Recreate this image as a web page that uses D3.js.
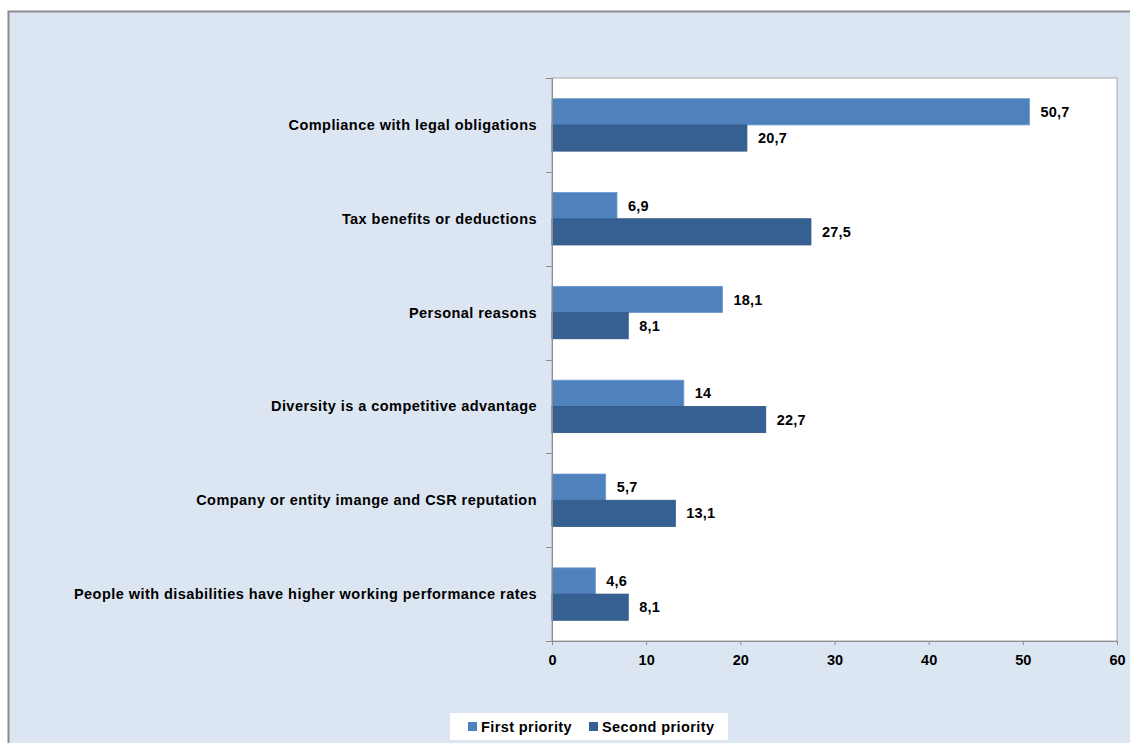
<!DOCTYPE html>
<html>
<head>
<meta charset="utf-8">
<script src="https://cdnjs.cloudflare.com/ajax/libs/d3/7.8.5/d3.min.js"></script>
<style>
	body { margin: 0; background: #ffffff; }
	text { font-family: "Liberation Sans", Arial, sans-serif; font-weight: bold; fill: #000; }
</style>
</head>
<body>
<div id="chart"></div>
<script>
var categories = [
	"Compliance with legal obligations",
	"Tax benefits or deductions",
	"Personal reasons",
	"Diversity is a competitive advantage",
	"Company or entity imange and CSR reputation ",
	"People with disabilities have higher working performance rates"
]
var seriesNames = ["First priority", "Second priority"]
var firstPriority = [50.7, 6.9, 18.1, 14, 5.7, 4.6]
var secondPriority = [20.7, 27.5, 8.1, 22.7, 13.1, 8.1]
var xTicks = [0, 10, 20, 30, 40, 50, 60]
var colors = ["#4f81bd", "#366092"]

var width = 1130,
	height = 743

var plot = { left: 552, top: 78, right: 1117, bottom: 641 }

var svg = d3.select('#chart').append('svg')
	.attr('width', width)
	.attr('height', height);

// outer frame
svg.append('rect')
	.attr('x', 8.5).attr('y', 11.5)
	.attr('width', width).attr('height', height)
	.attr('fill', '#dce6f2')
	.attr('stroke', '#8c8c8c')
	.attr('stroke-width', 2);

var x = d3.scaleLinear()
	.domain([0, 60])
	.range([plot.left, plot.right]);

var y = d3.scaleBand()
	.domain(categories)
	.range([plot.top, plot.bottom]);

var inner = d3.scaleBand()
	.domain(seriesNames)
	.range([0, y.bandwidth()])
	.paddingOuter(0.79)
	.paddingInner(0);

// plot area
svg.append('rect')
	.attr('x', plot.left).attr('y', plot.top)
	.attr('width', plot.right - plot.left)
	.attr('height', plot.bottom - plot.top)
	.attr('fill', '#ffffff')
	.attr('stroke', '#a6a6a6')
	.attr('stroke-width', 1);

var data = categories.map(function (c, i) {
	return { name: c, values: [firstPriority[i], secondPriority[i]] }
})

var group = svg.selectAll('.cat')
	.data(data)
	.enter().append('g')
	.attr('class', 'cat')
	.attr('transform', function (d) { return 'translate(0,' + y(d.name) + ')' });

group.selectAll('rect')
	.data(function (d) { return d.values.map(function (v, k) { return { s: seriesNames[k], v: v, k: k } }) })
	.enter().append('rect')
	.attr('x', x(0))
	.attr('y', function (d) { return inner(d.s) })
	.attr('width', function (d) { return x(d.v) - x(0) })
	.attr('height', inner.bandwidth())
	.attr('fill', function (d) { return colors[d.k] })
	.attr('stroke', function (d) { return d.k == 0 ? '#6a97cf' : '#2f5583' })
	.attr('stroke-width', 0.8);

group.selectAll('.val')
	.data(function (d) { return d.values.map(function (v, k) { return { s: seriesNames[k], v: v } }) })
	.enter().append('text')
	.attr('class', 'val')
	.attr('x', function (d) { return x(d.v) + 11 })
	.attr('y', function (d) { return inner(d.s) + inner.bandwidth() / 2 })
	.attr('dy', '0.35em')
	.style('font-size', '14.5px')
	.style('letter-spacing', '0.2px')
	.text(function (d) { return String(d.v).replace('.', ',') });

// y axis
var yAxis = d3.axisLeft(y).tickSize(6).tickFormat('');
var yg = svg.append('g')
	.attr('transform', 'translate(' + plot.left + ',0)')
	.call(yAxis);
yg.select('.domain').attr('stroke', '#8c8c8c');
yg.selectAll('.tick').remove();
// category boundary ticks
yg.selectAll('.bt')
	.data(categories.concat(['end']))
	.enter().append('line')
	.attr('x1', -6).attr('x2', 0)
	.attr('y1', function (d, i) { return Math.round(plot.top + i * y.step()) + 0.5 })
	.attr('y2', function (d, i) { return Math.round(plot.top + i * y.step()) + 0.5 })
	.attr('stroke', '#8c8c8c');

svg.selectAll('.cl')
	.data(categories)
	.enter().append('text')
	.attr('class', 'cl')
	.attr('x', 537)
	.attr('y', function (d) { return y(d) + y.bandwidth() / 2 })
	.attr('dy', '0.35em')
	.attr('text-anchor', 'end')
	.style('font-size', '14.5px')
	.style('letter-spacing', '0.45px')
	.text(function (d) { return d });

// x axis
var xAxis = d3.axisBottom(x).tickValues(xTicks).tickSize(4).tickPadding(10);
var xg = svg.append('g')
	.attr('transform', 'translate(0,' + plot.bottom + ')')
	.call(xAxis);
xg.select('.domain').attr('stroke', '#8c8c8c');
xg.selectAll('.tick line').attr('stroke', '#8c8c8c');
xg.selectAll('.tick text')
	.style('font-size', '14.5px')
	.style('font-family', '"Liberation Sans", Arial, sans-serif')
	.style('font-weight', 'bold')
	.attr('fill', '#000');

// legend
var legend = svg.append('g');
legend.append('rect')
	.attr('x', 450).attr('y', 713)
	.attr('width', 278).attr('height', 27)
	.attr('fill', '#ffffff');
var legX = [468, 589];
seriesNames.forEach(function (s, k) {
	legend.append('rect')
		.attr('x', legX[k]).attr('y', 722)
		.attr('width', 9).attr('height', 9)
		.attr('fill', colors[k]);
	legend.append('text')
		.attr('x', legX[k] + 13).attr('y', 727)
		.attr('dy', '0.35em')
		.style('font-size', '14.5px')
		.style('letter-spacing', '0.4px')
		.text(s);
});
</script>
</body>
</html>
